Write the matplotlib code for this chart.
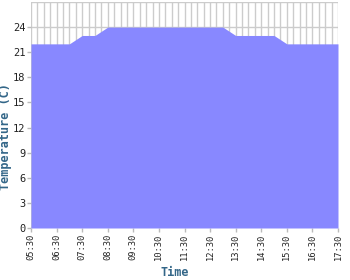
import matplotlib
matplotlib.use("Agg")
import matplotlib.pyplot as plt
import numpy as np

# half-hourly readings, 05:30 .. 17:30
times = ["05:30", "06:00", "06:30", "07:00", "07:30", "08:00", "08:30", "09:00",
         "09:30", "10:00", "10:30", "11:00", "11:30", "12:00", "12:30", "13:00",
         "13:30", "14:00", "14:30", "15:00", "15:30", "16:00", "16:30", "17:00",
         "17:30"]
temps = [22, 22, 22, 22, 23, 23, 24, 24,
         24, 24, 24, 24, 24, 24, 24, 24,
         23, 23, 23, 23, 22, 22, 22, 22,
         22]
tick_labels = times[::2]


def to_hours(t):
    h, m = t.split(":")
    return int(h) + int(m) / 60.0


x = np.array([to_hours(t) for t in times])

fig = plt.figure(figsize=(3.5, 2.8), dpi=100)
ax = fig.add_axes([31 / 350, 1 - 228 / 280, 307 / 350, 226 / 280])

# grid: vertical every 15 min, horizontal every 3 units
for gx in np.arange(x[0], x[-1] + 0.01, 0.25):
    ax.axvline(gx, color="#cccccc", lw=1, zorder=0)
for gy in range(0, 28, 3):
    ax.axhline(gy, color="#cccccc", lw=1, zorder=0)

ax.fill_between(x, 0, temps, color="#8888ff", lw=0, zorder=2, antialiased=False)

ax.set_xlim(x[0], x[-1])
ax.set_ylim(0, 27)
ax.set_yticks(range(0, 25, 3))
ax.set_xticks([to_hours(t) for t in tick_labels])
ax.set_xticklabels(tick_labels, rotation=90)

for s in ax.spines.values():
    s.set_visible(False)
ax.tick_params(axis="both", length=3, width=1, color="#bbbbbb",
               labelcolor="#222222", pad=1)
ax.tick_params(axis="x", labelsize=6.3)
ax.tick_params(axis="y", labelsize=7.5)
for lab in ax.get_xticklabels() + ax.get_yticklabels():
    lab.set_family("DejaVu Sans Mono")

fig.text(175 / 350, 1 - 272 / 280, "Time", fontsize=8.5, fontweight="bold",
         color="#336688", family="DejaVu Sans Mono", ha="center", va="center")
fig.text(6 / 350, 1 - 137 / 280, "Temperature (C)", fontsize=8.5,
         fontweight="bold", color="#336688", family="DejaVu Sans Mono",
         rotation=90, ha="center", va="center")

fig.savefig("out.png", dpi=100)
